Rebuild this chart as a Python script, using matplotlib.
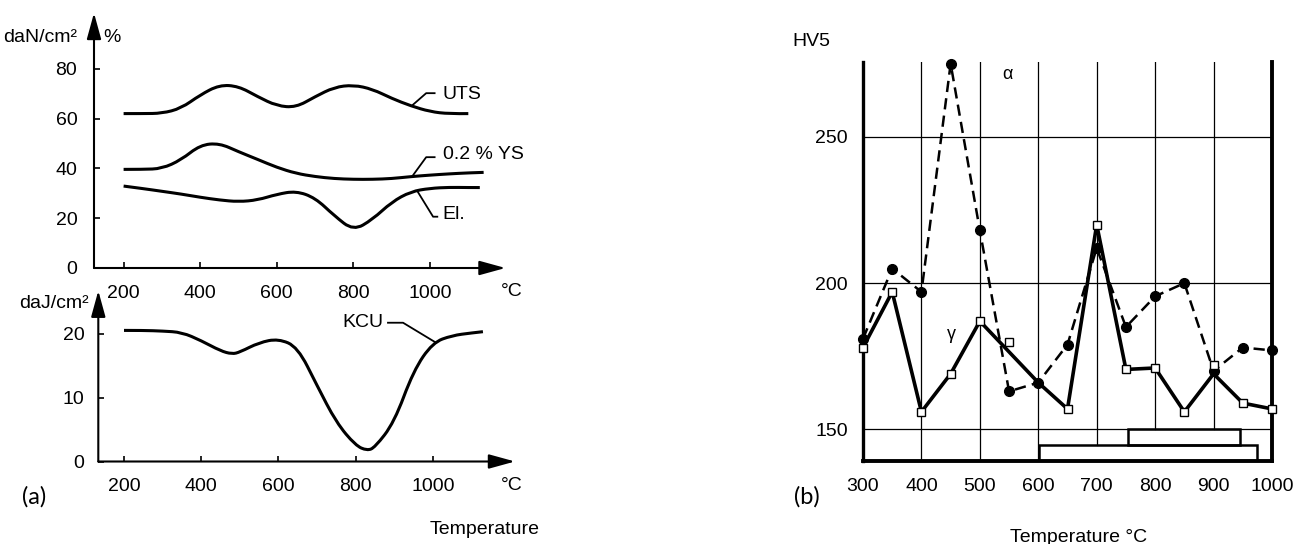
import matplotlib.pyplot as plt
from matplotlib.patches import Rectangle, PathPatch
from matplotlib.path import Path

# --- (a) górny wykres: UTS, 0.2 % YS, El. w funkcji temperatury
uts_T = [200, 250, 300, 350, 400, 450, 500, 550, 600, 650, 700, 750, 800, 850, 900, 950, 1000, 1050, 1100]
uts = [62, 62, 62.1, 64.1, 69.5, 73.5, 73, 68.8, 65.1, 64.5, 68.8, 72.6, 73.5, 71.8, 68.1, 65.1, 62.8, 61.9, 62]

ys_T = [200, 250, 300, 350, 400, 450, 500, 550, 600, 650, 700, 750, 800, 850, 900, 950, 1000, 1050, 1100, 1140]
ys = [39.6, 39.6, 39.9, 43.4, 49.4, 50.1, 46.7, 43.6, 40.4, 38, 36.7, 35.9, 35.6, 35.6, 35.9, 36.7, 37.3, 37.8, 38.2, 38.4]

el_T = [200, 250, 300, 350, 400, 450, 500, 550, 600, 650, 700, 750, 800, 850, 900, 950, 1000, 1050, 1100, 1130]
el = [32.9, 31.9, 30.8, 29.7, 28.4, 27.3, 26.6, 27.3, 29.6, 30.9, 28.2, 21, 15, 19.5, 26.5, 30.7, 32, 32.4, 32.3, 32.3]

# --- (a) dolny wykres: udarność KCU
kcu_T = [200, 250, 300, 350, 400, 450, 480, 500, 550, 600, 650, 700, 750, 800, 830, 850, 900, 950, 1000, 1050, 1100, 1130]
kcu = [20.5, 20.5, 20.4, 20.2, 18.9, 17.3, 16.8, 17.1, 18.6, 19.2, 17.9, 11.9, 6.1, 2.5, 1.7, 2.2, 6.1, 14.2, 18.6, 19.7, 20.1, 20.3]

ticks_a = [200, 400, 600, 800, 1000]

# --- (b) twardość HV5
alpha_T = [300, 350, 400, 450, 500, 550, 600, 650, 700, 750, 800, 850, 900, 950, 1000]
alpha_hv = [181, 205, 197, 275, 218, 163, 166, 179, 212, 185, 195.5, 200, 170, 178, 177]

gamma_T = [300, 350, 400, 450, 500, 600, 650, 700, 750, 800, 850, 900, 950, 1000]
gamma_hv = [178, 197, 156, 169, 187, 166, 157, 220, 170.5, 171, 156, 169, 159, 157]

square_T = [300, 350, 400, 450, 500, 550, 650, 700, 750, 800, 850, 900, 950, 1000]
square_hv = [178, 197, 156, 169, 187, 180, 157, 220, 170.5, 171, 156, 172, 159, 157]

ticks_b = [300, 400, 500, 600, 700, 800, 900, 1000]
hticks_b = [150, 200, 250]

W, H = 1306, 544
plt.rcParams['font.family'] = ['Liberation Sans', 'DejaVu Sans']
FS = 14

fig = plt.figure(figsize=(W / 100, H / 100), dpi=100)


def px_axes(left, top, right, bottom):
    """Osie podane w pikselach obrazka (od lewego górnego rogu)"""
    return fig.add_axes([left / W, 1 - bottom / H, (right - left) / W, (bottom - top) / H])


def ftext(x, y, s, **kw):
    kw.setdefault('fontsize', FS)
    fig.text(x / W, 1 - y / H, s, ha=kw.pop('ha', 'center'), va=kw.pop('va', 'center'), **kw)


def arrow(ax, x0, y0, x1, y1):
    ax.annotate('', xy=(x1, y1), xytext=(x0, y0), annotation_clip=False,
                arrowprops=dict(arrowstyle='-|>,head_length=0.8,head_width=0.22',
                                lw=1.5, color='k', mutation_scale=20,
                                shrinkA=0, shrinkB=0))


def smooth_curve(ax, xs, ys, lw=2.2):
    """Gładka krzywa (kwadratowe Béziery przez punkty środkowe odcinków)"""
    verts = [(xs[0], ys[0])]
    codes = [Path.MOVETO]
    n = len(xs)
    for i in range(1, n - 1):
        if i == n - 2:
            end = (xs[i + 1], ys[i + 1])
        else:
            end = ((xs[i] + xs[i + 1]) / 2, (ys[i] + ys[i + 1]) / 2)
        verts += [(xs[i], ys[i]), end]
        codes += [Path.CURVE3, Path.CURVE3]
    ax.add_patch(PathPatch(Path(verts, codes), facecolor='none', edgecolor='k', lw=lw,
                           capstyle='butt'))


def style_arrow_axes(ax, x0, xend, yend, ypad):
    for s in ax.spines.values():
        s.set_visible(False)
    arrow(ax, x0, 0, xend, 0)
    arrow(ax, x0, 0, x0, yend)
    ax.set_xticks(ticks_a)
    ax.tick_params(axis='x', direction='in', length=4, width=1.2, pad=12, labelsize=FS)
    ax.tick_params(axis='y', direction='in', length=4, width=1.2, pad=ypad, labelsize=FS)
    ax.patch.set_alpha(0)


# górny panel (a)
ax1 = px_axes(94, 10, 525, 268)
ax1.set_xlim(122.7, 1248)
ax1.set_ylim(0, 103.6)
style_arrow_axes(ax1, 122.7, 1197, 102.4, 12)
ax1.set_yticks([0, 20, 40, 60, 80])
for T, v in [(uts_T, uts), (ys_T, ys), (el_T, el)]:
    smooth_curve(ax1, T, v)
ax1.plot([955, 990, 1012], [65.5, 70.2, 70.2], color='k', lw=1.3)
ax1.plot([954, 990, 1012], [36.9, 44.5, 44.5], color='k', lw=1.3)
ax1.plot([968, 1008, 1019], [30.6, 20.6, 20.6], color='k', lw=1.3)
ax1.text(1033, 69.5, 'UTS', ha='left', va='center', fontsize=FS)
ax1.text(1033, 45.4, '0.2 % YS', ha='left', va='center', fontsize=FS)
ax1.text(1033, 21.3, 'El.', ha='left', va='center', fontsize=FS)

# dolny panel (a)
ax2 = px_axes(98.3, 285, 525, 461.5)
ax2.set_xlim(133.4, 1239)
ax2.set_ylim(0, 27.6)
style_arrow_axes(ax2, 133.4, 1213, 26.7, 10)
ax2.set_yticks([0, 10, 20])
smooth_curve(ax2, kcu_T, kcu)
ax2.plot([884, 923, 1008], [21.7, 21.7, 18.6], color='k', lw=1.3)
ax2.text(819, 21.7, 'KCU', ha='center', va='center', fontsize=FS)

ftext(40, 37, 'daN/cm²')
ftext(112, 37, '%')
ftext(54, 303, 'daJ/cm²')
ftext(512, 292, '°C')
ftext(512, 485, '°C')
ftext(485, 530, 'Temperature')
ftext(34, 497, '(a)', fontsize=17, family=['Lato', 'DejaVu Sans'])

# panel (b)
ax3 = px_axes(863, 62, 1272, 461)
ax3.set_xlim(300, 1000)
ax3.set_ylim(139.2, 275.6)
ax3.spines['top'].set_visible(False)
ax3.spines['left'].set_linewidth(2.4)
ax3.spines['right'].set_linewidth(2.8)
ax3.spines['bottom'].set_linewidth(2.8)
ax3.set_xticks(ticks_b)
ax3.set_yticks(hticks_b)
ax3.tick_params(axis='x', length=0, pad=12, labelsize=FS)
ax3.tick_params(axis='y', length=0, pad=11, labelsize=FS)

ytop = 275.6
ybot = 139.2
grid_kw = dict(color='k', lw=0.9, zorder=1)
for h in hticks_b:
    ax3.plot([300, 1000], [h, h], **grid_kw)
for t in ticks_b[1:-1]:
    if t <= 600:
        lo = ybot
    elif t == 700:
        lo = 144.7
    else:
        lo = 150
    ax3.plot([t, t], [lo, ytop], **grid_kw)

ax3.add_patch(Rectangle((602, ybot), 975 - 602, 144.7 - ybot, fill=False, lw=1.8,
                        edgecolor='k', zorder=2))
ax3.add_patch(Rectangle((753, 144.7), 946 - 753, 150 - 144.7, fill=False, lw=1.8,
                        edgecolor='k', zorder=2))

ax3.plot(alpha_T, alpha_hv, color='k', lw=1.8, dashes=(4.5, 2.5), marker='o',
         markersize=7, markerfacecolor='k', zorder=3, clip_on=False)
ax3.plot(gamma_T, gamma_hv, color='k', lw=2.6, zorder=3, clip_on=False)
ax3.plot(square_T, square_hv, ls='none', marker='s', markersize=6,
         markerfacecolor='white', markeredgecolor='k', markeredgewidth=1, zorder=4,
         clip_on=False)

ax3.text(547.6, 271.2, 'α', ha='center', va='center', fontsize=13)
ax3.text(451.8, 182.5, 'γ', ha='center', va='center', fontsize=13)

ftext(811.7, 41.7, 'HV5')
ftext(807, 497, '(b)', fontsize=17, family=['Lato', 'DejaVu Sans'])
ftext(1079, 537, 'Temperature °C')

fig.savefig('out.png', dpi=100, facecolor='white')
